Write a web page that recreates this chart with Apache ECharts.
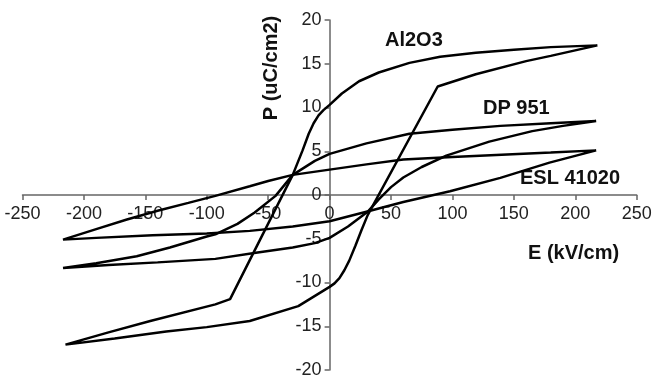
<!DOCTYPE html>
<html>
<head>
<meta charset="utf-8">
<title>P-E hysteresis</title>
<script src="https://cdn.jsdelivr.net/npm/echarts@6/dist/echarts.min.js"></script>
<style>
  html, body { margin: 0; padding: 0; background: #fff; }
  #chart { width: 656px; height: 375px; }
</style>
</head>
<body>
<div id="chart"></div>
<script>
// E (kV/cm), P (uC/cm2)
// each loop: down branch (from +Emax to -Emax), then up branch back
const al2o3Down = [
  [218, 17.1], [180, 15.9], [160, 15.3], [119, 13.8], [88, 12.4],
  [31, -2.3], [26, -4.0], [21, -5.8], [16, -7.5], [12, -8.6], [8, -9.5], [4, -10.1], [0, -10.5],
  [-25.5, -12.7], [-65, -14.4], [-100, -15.1], [-133, -15.6], [-175, -16.4], [-215, -17.1]
]
const al2o3Up = [
  [-215, -17.1], [-180, -15.7], [-146, -14.4], [-93, -12.5], [-81, -11.9],
  [-30, 2.3], [-26, 3.7], [-22, 5.1], [-17, 7.0], [-13, 8.2], [-9, 9.1], [-5, 9.7],
  [0, 10.3], [10, 11.6], [24, 13.0], [40, 14.0], [65, 15.1], [90, 15.8],
  [119, 16.25], [150, 16.6], [180, 16.9], [218, 17.1]
]
const dpDown = [
  [217, 8.45], [180, 8.2], [139, 7.9], [100, 7.45], [65, 7.0], [30, 5.9],
  [0, 4.7], [-12, 3.9], [-30, 2.3], [-44, -0.1], [-61, -2.0], [-75, -3.3],
  [-93, -4.5], [-100, -4.75], [-130, -6.0], [-157, -7.0], [-190, -7.8], [-217, -8.35]
]
const dpUp = [
  [-217, -8.35], [-180, -8.0], [-140, -7.7], [-93, -7.3], [-60, -6.6],
  [-30, -6.0], [-12, -5.5], [0, -4.9], [15, -3.6], [31.5, -1.85], [40, -0.5],
  [50, 0.9], [60, 2.0], [75, 3.2], [95, 4.5], [130, 6.1], [165, 7.3], [190, 7.9], [217, 8.45]
]
const eslDown = [
  [217, 5.1], [180, 4.85], [140, 4.6], [100, 4.35], [60, 4.05], [30, 3.5],
  [0, 2.9], [-30, 2.3], [-50, 1.6], [-65, 1.0], [-93, -0.1], [-115, -0.9],
  [-140, -1.8], [-165, -2.8], [-190, -3.9], [-217, -5.1]
]
const eslUp = [
  [-217, -5.1], [-190, -4.9], [-144, -4.6], [-100, -4.4], [-65, -4.1],
  [-30, -3.6], [0, -3.0], [31.5, -1.85], [60, -0.8], [98, 0.43],
  [139, 1.96], [179, 3.7], [217, 5.1]
]
const loopNames = ['Al2O3', 'DP 951', 'ESL 41020']
const xTicks = [-250, 250, 50]
const yTicks = [-20, 20, 5]

const chart = echarts.init(document.getElementById('chart'))

function loop(name, down, up) {
  return {
    name: name,
    type: 'line',
    data: down.concat(up.slice(1)),
    symbol: 'none',
    smooth: false,
    lineStyle: { color: '#000', width: 2.5 },
    z: 3
  }
}

const bold = {
  fontFamily: 'Liberation Sans, Arial, sans-serif',
  fontWeight: 'bold',
  fontSize: 20,
  fill: '#111',
  verticalAlign: 'middle'
}

// grid box: x -250..250 over 22.5..636.7, y -20..20 over 370..20
// axes are pushed in to cross at the origin
chart.setOption({
  animation: false,
  backgroundColor: '#fff',
  grid: {
    left: 22.5, right: 19.3, top: 20, bottom: 5,
    containLabel: false,
    outerBoundsMode: 'none'
  },
  xAxis: {
    type: 'value',
    min: xTicks[0],
    max: xTicks[1],
    interval: xTicks[2],
    offset: -175,
    axisLine: { onZero: false, lineStyle: { color: '#666', width: 1.5 } },
    axisTick: { show: true, length: 5, lineStyle: { color: '#666', width: 1.5 } },
    axisLabel: {
      margin: 10,
      color: '#222',
      fontSize: 18,
      fontFamily: 'Liberation Sans, Arial, sans-serif'
    },
    splitLine: { show: false }
  },
  yAxis: {
    type: 'value',
    min: yTicks[0],
    max: yTicks[1],
    interval: yTicks[2],
    offset: -307.1,
    axisLine: { onZero: false, lineStyle: { color: '#666', width: 1.5 } },
    axisTick: { show: true, length: 5, lineStyle: { color: '#666', width: 1.5 } },
    axisLabel: {
      margin: 8,
      color: '#222',
      fontSize: 18,
      fontFamily: 'Liberation Sans, Arial, sans-serif'
    },
    splitLine: { show: false }
  },
  series: [
    loop(loopNames[0], al2o3Down, al2o3Up),
    loop(loopNames[1], dpDown, dpUp),
    loop(loopNames[2], eslDown, eslUp)
  ],
  graphic: [
    { type: 'text', x: 385, y: 40, style: Object.assign({ text: loopNames[0], align: 'left' }, bold) },
    { type: 'text', x: 483, y: 108, style: Object.assign({ text: loopNames[1], align: 'left' }, bold) },
    { type: 'text', x: 520, y: 178, style: Object.assign({ text: loopNames[2], align: 'left' }, bold) },
    { type: 'text', x: 528, y: 253, style: Object.assign({ text: 'E (kV/cm)', align: 'left' }, bold) },
    {
      type: 'text', x: 271, y: 68, rotation: Math.PI / 2,
      style: Object.assign({ text: 'P (uC/cm2)', align: 'center' }, bold)
    }
  ]
})
</script>
</body>
</html>
